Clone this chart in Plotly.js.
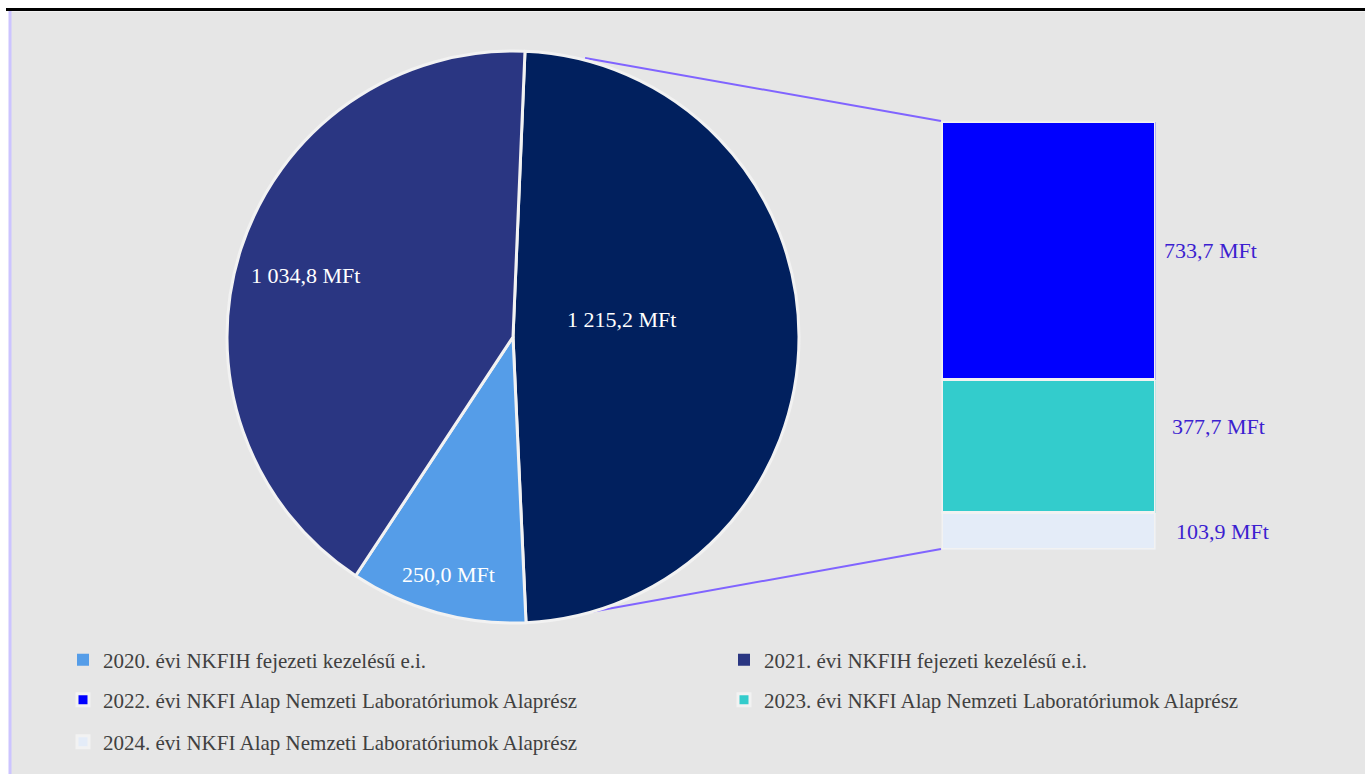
<!DOCTYPE html>
<html>
<head>
<meta charset="utf-8">
<script src="https://cdn.plot.ly/plotly-3.0.1.min.js"></script>
<style>html,body{margin:0;padding:0;background:#fff;}#chart{width:1365px;height:774px;}</style>
</head>
<body>
<div id="chart"></div>
<script>
// ---- data ----
const pieLabels = ["Nemzeti Laboratóriumok Alaprész (2022–2024)", "2020. évi NKFIH fejezeti kezelésű e.i.", "2021. évi NKFIH fejezeti kezelésű e.i."];
const pieValues = [1215.2, 250.0, 1034.8];
const pieColors = ["#01205e", "#559de8", "#2a3682"];

const barLabels = ["2024. évi NKFI Alap Nemzeti Laboratóriumok Alaprész", "2023. évi NKFI Alap Nemzeti Laboratóriumok Alaprész", "2022. évi NKFI Alap Nemzeti Laboratóriumok Alaprész"];
const barValues = [103.9, 377.7, 733.7];
const barColors = ["#e4ecf8", "#33cccc", "#0000ff"];

const unit = " MFt";

// ---- helpers ----
const W = 1365, H = 774;
const PX = px => px / W;
const PY = py => 1 - py / H;
function fmt(v) {
  const s = v.toFixed(1).split(".");
  const intPart = s[0].replace(/\B(?=(\d{3})+(?!\d))/g, " ");
  return intPart + "," + s[1] + unit;
}
const serif = "Liberation Serif, Times New Roman, serif";

const traces = [];
traces.push({
  type: "pie",
  labels: pieLabels,
  values: pieValues,
  sort: false,
  direction: "clockwise",
  rotation: 2.4,
  marker: {colors: pieColors, line: {color: "#f2f2f2", width: 3}},
  textinfo: "none",
  hoverinfo: "label+value",
  showlegend: false,
  domain: {x: [PX(227), PX(799)], y: [PY(623), PY(51)]}
});

// legend-only entries for the two pie slices
const pieLegendIds = {1: "legend", 2: "legend2"};
[1, 2].forEach(i => {
  traces.push({
    type: "bar", x: [null], y: [null], name: pieLabels[i],
    marker: {color: pieColors[i]}, legend: pieLegendIds[i],
    xaxis: "x", yaxis: "y", hoverinfo: "skip"
  });
});

const barLegendIds = {0: "legend5", 1: "legend4", 2: "legend3"};
barValues.forEach((v, i) => {
  traces.push({
    type: "bar", x: [0], y: [v], width: [1], name: barLabels[i],
    marker: {color: barColors[i], line: {color: "#f2f2f2", width: 3}},
    legend: barLegendIds[i],
    hovertemplate: "%{y}<extra>" + barLabels[i] + "</extra>"
  });
});

const barTotal = barValues.reduce((a, b) => a + b, 0);

// bar value labels
const labelShiftY = [0, 20, 0];
const labelShiftX = [10, 6, -2];
const annotations = [];
let cum = 0;
barValues.forEach((v, i) => {
  annotations.push({
    xref: "paper", yref: "y", x: PX(1164), y: cum + v / 2, yshift: labelShiftY[i], xshift: labelShiftX[i],
    xanchor: "left", yanchor: "middle", showarrow: false,
    text: fmt(v), font: {family: serif, size: 22, color: "#3c1fd0"}
  });
  cum += v;
});

// pie value labels
const pieLabelPos = [[621, 320], [448, 574], [305, 275]];
pieValues.forEach((v, i) => {
  annotations.push({
    xref: "paper", yref: "paper", x: PX(pieLabelPos[i][0]), y: PY(pieLabelPos[i][1]),
    xanchor: "center", yanchor: "middle", showarrow: false,
    text: fmt(v), font: {family: serif, size: 22, color: "#ffffff"}
  });
});

const legendFont = {family: serif, size: 21, color: "#404040"};
function leg(xpx, ypx) {
  return {orientation: "h", bgcolor: "rgba(0,0,0,0)", borderwidth: 0, font: legendFont,
    traceorder: "normal", xanchor: "left", yanchor: "middle", x: PX(xpx), y: PY(ypx),
    itemclick: false, itemdoubleclick: false};
}

const layout = {
  width: W, height: H,
  margin: {l: 0, r: 0, t: 0, b: 0},
  paper_bgcolor: "#ffffff",
  plot_bgcolor: "rgba(0,0,0,0)",
  barmode: "stack",
  xaxis: {domain: [PX(941.5), PX(1155.5)], range: [-0.5, 0.5], visible: false, fixedrange: true},
  yaxis: {domain: [PY(549.5), PY(121.5)], range: [0, barTotal], visible: false, fixedrange: true},
  showlegend: true,
  legend: leg(63, 660),
  legend2: leg(724, 660),
  legend3: leg(63, 700),
  legend4: leg(724, 700),
  legend5: leg(63, 742),
  annotations: annotations,
  shapes: [
    {type: "rect", xref: "paper", yref: "paper", x0: PX(11), x1: 1, y0: 0, y1: PY(11.5), fillcolor: "#e6e6e6", line: {width: 0}, layer: "below"},
    {type: "line", xref: "paper", yref: "paper", x0: PX(10), x1: PX(10), y0: 0, y1: PY(11), line: {color: "#ccc4ff", width: 3}, layer: "below"},
    {type: "line", xref: "paper", yref: "paper", x0: PX(6), x1: 1, y0: PY(9.5), y1: PY(9.5), line: {color: "#000000", width: 3}, layer: "below"},
    {type: "line", xref: "paper", yref: "paper", x0: PX(585), x1: PX(941), y0: PY(58), y1: PY(121), line: {color: "#8064ff", width: 2}, layer: "below"},
    {type: "line", xref: "paper", yref: "paper", x0: PX(585), x1: PX(941), y0: PY(613), y1: PY(549), line: {color: "#8064ff", width: 2}, layer: "below"}
  ]
};

Plotly.newPlot("chart", traces, layout, {displayModeBar: false, staticPlot: true});
</script>
</body>
</html>
